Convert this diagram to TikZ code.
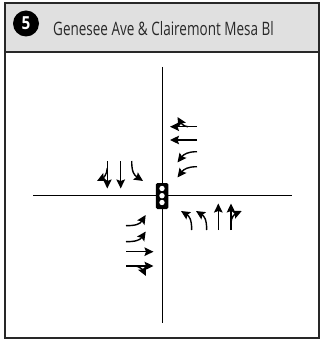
\documentclass[tikz,border=0pt]{standalone}
\usepackage{fontspec}
\setmainfont{Open Sans}
\newfontfamily\headfont[FakeStretch=0.73]{Open Sans}
\newfontfamily\badgefont[FakeStretch=0.85]{Open Sans}
\usetikzlibrary{arrows.meta}
\definecolor{kopf}{RGB}{224,224,224}
\definecolor{rahmen}{RGB}{40,40,40}
\tikzset{
	lane/.style={line width=1.4pt,-{Stealth[length=9pt,width=8.5pt,inset=1.5pt]}},
	road/.style={line width=1pt,black}
}

\begin{document}
\begin{tikzpicture}[x=1pt,y=-1pt,>=stealth]
	\useasboundingbox (0,0) rectangle (320,339);

	\fill[kopf] (5,3) rectangle (319,52);
	\draw[line width=1.4pt,rahmen] (5,3) rectangle (319,338);
	\draw[line width=1.2pt,rahmen] (5,52) -- (319,52);
	\node[circle,fill=black,minimum size=26pt,inner sep=0pt,text=white,font=\badgefont\bfseries\fontsize{18}{18}\selectfont] (badge) at (26,23.5) {5};
	\node[anchor=west,inner sep=0pt,text=rahmen,font=\headfont\fontsize{18.5}{20}\selectfont] (title) at (53,29) {Genesee Ave \& Clairemont Mesa Bl};

	% roads
	\draw[road] (162,67) -- (162,323);
	\draw[road] (33,195) -- (292,195);

	% signal
	\node[fill=black,rounded corners=1.5pt,minimum width=12.5pt,minimum height=26pt,inner sep=0pt] (signal) at (162,196) {};
	\foreach \y in {188.5,195.7,202.5}
		\fill[white] (162,\y) circle (2.7pt);

	% southbound
	\draw[lane] (107.3,161) -- (107.3,188.5);
	\draw[lane] (107.3,168) .. controls (107,175) and (103,178) .. (97,181);
	\draw[lane] (120.7,161) -- (120.7,188.5);
	\draw[lane] (131.7,161) .. controls (131.7,172) and (134,175) .. (143,181);

	% westbound
	\draw[lane] (197,126.7) -- (170,126.7);
	\draw[lane] (188,126.7) .. controls (184,126.7) and (181,123) .. (177.5,117);
	\draw[lane] (197,140) -- (170,140);
	\draw[lane] (197,151.7) .. controls (188,151.7) and (184,154) .. (177.5,162.5);
	\draw[lane] (197,166.7) .. controls (188,166.7) and (184,169) .. (177.5,177.5);

	% eastbound
	\draw[lane] (126,225.7) .. controls (136,225.7) and (140,224) .. (145.7,215);
	\draw[lane] (126,241.7) .. controls (136,241.7) and (140,240) .. (145.7,231.5);
	\draw[lane] (126,251.7) -- (153.5,251.7);
	\draw[lane] (126,266) -- (153.5,266);
	\draw[lane] (136,266) .. controls (140,267) and (143,270) .. (146,276);

	% northbound
	\draw[lane] (191.7,230) .. controls (191.7,219) and (189,216) .. (181,211);
	\draw[lane] (206.7,230) .. controls (206.7,219) and (204,216) .. (196,211);
	\draw[lane] (218.3,230) -- (218.3,203.5);
	\draw[lane] (231,230) -- (231,203.5);
	\draw[lane] (231,223) .. controls (231,217) and (235,214) .. (241.7,211);

\end{tikzpicture}
\end{document}
